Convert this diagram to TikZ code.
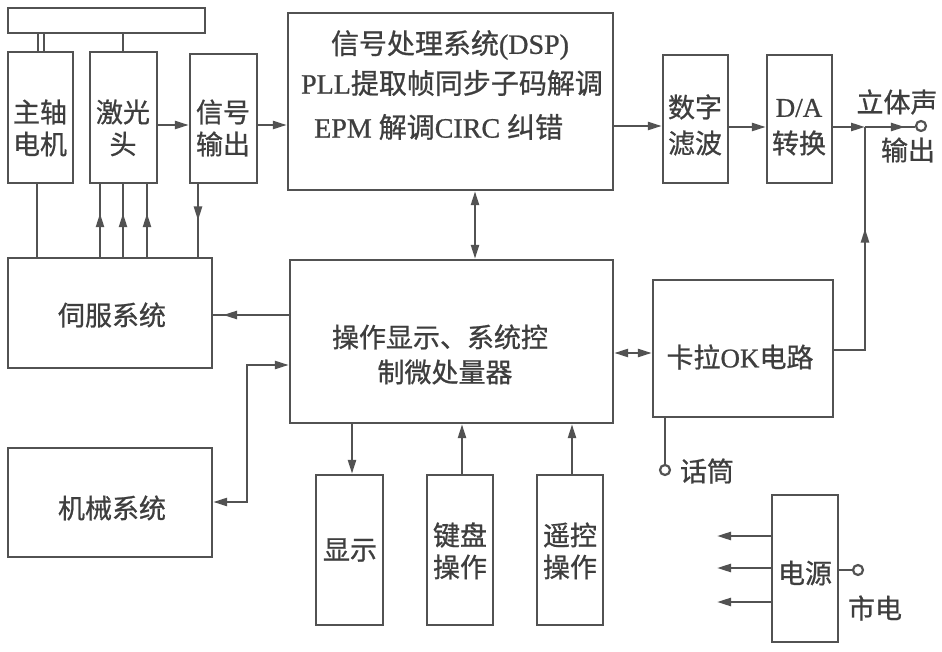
\documentclass[tikz,border=0pt]{standalone}
\usepackage{fontspec}
\setmainfont{Liberation Serif}[FakeBold=0.8]
\newfontfamily\cjk{Noto Sans CJK SC}[FakeBold=0.8]
\usetikzlibrary{arrows.meta,decorations.markings}
\definecolor{ln}{RGB}{82,82,82}
\definecolor{tx}{RGB}{62,62,62}
\begin{document}
\begin{tikzpicture}[x=1pt,y=-1pt,line width=2.4pt,
  >={Triangle[length=14pt,width=8pt]},
  blk/.style 2 args={draw=ln,rectangle,inner sep=0pt,minimum width=#1,minimum height=#2},
  lbl/.style={text=tx,font=\cjk\fontsize{27}{32}\selectfont,inner sep=0pt},
  big/.style={text=tx,font=\cjk\fontsize{28}{32}\selectfont,inner sep=0pt},
  cn/.style={draw=ln},
  midarr/.style={postaction={decorate},decoration={markings,mark=at position #1 with {\arrow{>}}}},
  term/.style={circle,draw=ln,fill=white,minimum size=10pt,inner sep=0pt,line width=2.2pt}]
\fill[white] (0,0) rectangle (942,652);
\useasboundingbox (0,0) rectangle (942,652);
% boxes
\node[blk={197}{25}] (bar) at (106.5,20.5) {};
\node[blk={65}{131}] (spindle) at (40.5,117.5) {};
\node[blk={67}{131}] (laser) at (123.5,117.5) {};
\node[blk={67}{129}] (sigout) at (223.5,118.5) {};
\node[blk={325}{177}] (dsp) at (450.5,101.5) {};
\node[blk={65}{128}] (filt) at (695.5,119) {};
\node[blk={65}{128}] (da) at (799.5,119) {};
\node[blk={204}{110}] (servo) at (110,313) {};
\node[blk={323}{163}] (ctrl) at (451.5,341.5) {};
\node[blk={180}{137}] (kara) at (743,348.5) {};
\node[blk={204}{109}] (mech) at (110,502.5) {};
\node[blk={67}{150}] (disp) at (349.5,550) {};
\node[blk={66}{150}] (kbd) at (460,550) {};
\node[blk={66}{150}] (rc) at (570,550) {};
\node[blk={66}{147}] (power) at (805,568.5) {};
% labels
\node[lbl] (t1a) at (40,112) {主轴};
\node[lbl] (t1b) at (40,144) {电机};
\node[lbl] (t2a) at (123,112) {激光};
\node[lbl] (t2b) at (123,144) {头};
\node[lbl] (t3a) at (223,112) {信号};
\node[lbl] (t3b) at (223,144) {输出};
\node[big] (d1) at (450,45) {信号处理系统{\rmfamily(DSP)}};
\node[big] (d2) at (452,83) {{\rmfamily PLL}提取帧同步子码解调};
\node[big,anchor=west] (d3) at (313,127) {{\rmfamily EPM }解调{\rmfamily CIRC }纠错};
\node[lbl] (f1) at (695,107) {数字};
\node[lbl] (f2) at (695,143) {滤波};
\node[lbl] (a1) at (799,108) {{\rmfamily D/A}};
\node[lbl] (a2) at (799,143) {转换};
\node[lbl] (o1) at (897,102) {立体声};
\node[lbl] (o2) at (908,150) {输出};
\node[lbl] (s1) at (112,315) {伺服系统};
\node[lbl] (m1) at (112,508) {机械系统};
\node[lbl] (c1) at (440,337) {操作显示、系统控};
\node[lbl] (c2) at (445,372) {制微处量器};
\node[lbl] (k1) at (740,357) {卡拉{\rmfamily OK}电路};
\node[lbl] (mic) at (707,471) {话筒};
\node[lbl] (x1) at (350,550) {显示};
\node[lbl] (y1) at (460,535) {键盘};
\node[lbl] (y2) at (460,567) {操作};
\node[lbl] (z1) at (570,535) {遥控};
\node[lbl] (z2) at (570,567) {操作};
\node[lbl] (p1) at (805,573) {电源};
\node[lbl] (p2) at (875,608) {市电};
% terminals and coordinates
\node[term] (out) at (921,126) {};
\node[term] (micT) at (665,470) {};
\node[term] (mains) at (858,570) {};
\coordinate (J) at (865,126);
\coordinate (JK) at (865,350);
\coordinate (M1) at (247,365);
\coordinate (M2) at (247,502);
\coordinate (P1) at (717,536);
\coordinate (P2) at (717,568);
\coordinate (P3) at (717,602);
% connectors
\draw[cn] (38,0 |- bar.south) -- (38,0 |- spindle.north);
\draw[cn] (44,0 |- bar.south) -- (44,0 |- spindle.north);
\draw[cn] (123,0 |- bar.south) -- (123,0 |- laser.north);
\draw[cn,->] (laser.east |- 0,125) -- (sigout.west |- 0,125);
\draw[cn,->] (sigout.east |- 0,125) -- (dsp.west |- 0,125);
\draw[cn,->] (dsp.east |- 0,126) -- (filt.west |- 0,126);
\draw[cn,->] (filt.east |- 0,127) -- (da.west |- 0,127);
\draw[cn,->] (da.east |- 0,127) -- (J |- 0,127);
\draw[cn,midarr=0.8] (J |- 0,127) -- (out.west |- 0,127);
\draw[cn,midarr=0.6] (kara.east |- JK) -- (JK) -- (J |- 0,127);
\draw[cn] (37,0 |- spindle.south) -- (37,0 |- servo.north);
\draw[cn,midarr=0.6] (100,0 |- servo.north) -- (100,0 |- laser.south);
\draw[cn,midarr=0.6] (123,0 |- servo.north) -- (123,0 |- laser.south);
\draw[cn,midarr=0.6] (147,0 |- servo.north) -- (147,0 |- laser.south);
\draw[cn,midarr=0.5] (198,0 |- sigout.south) -- (198,0 |- servo.north);
\draw[cn,midarr=0.87] (ctrl.west |- 0,315) -- (servo.east |- 0,315);
\draw[cn,<->] (ctrl.west |- M1) -- (M1) -- (M2) -- (mech.east |- M2);
\draw[cn,<->] (475,0 |- dsp.south) -- (475,0 |- ctrl.north);
\draw[cn,<->] (ctrl.east |- 0,353) -- (kara.west |- 0,353);
\draw[cn,->] (352,0 |- ctrl.south) -- (352,0 |- disp.north);
\draw[cn,->] (462,0 |- kbd.north) -- (462,0 |- ctrl.south);
\draw[cn,->] (572,0 |- rc.north) -- (572,0 |- ctrl.south);
\draw[cn] (665,0 |- kara.south) -- (micT.north);
\draw[cn,->] (power.west |- P1) -- (P1);
\draw[cn,->] (power.west |- P2) -- (P2);
\draw[cn,->] (power.west |- P3) -- (P3);
\draw[cn] (power.east |- mains) -- (mains.west);
\end{tikzpicture}
\end{document}
